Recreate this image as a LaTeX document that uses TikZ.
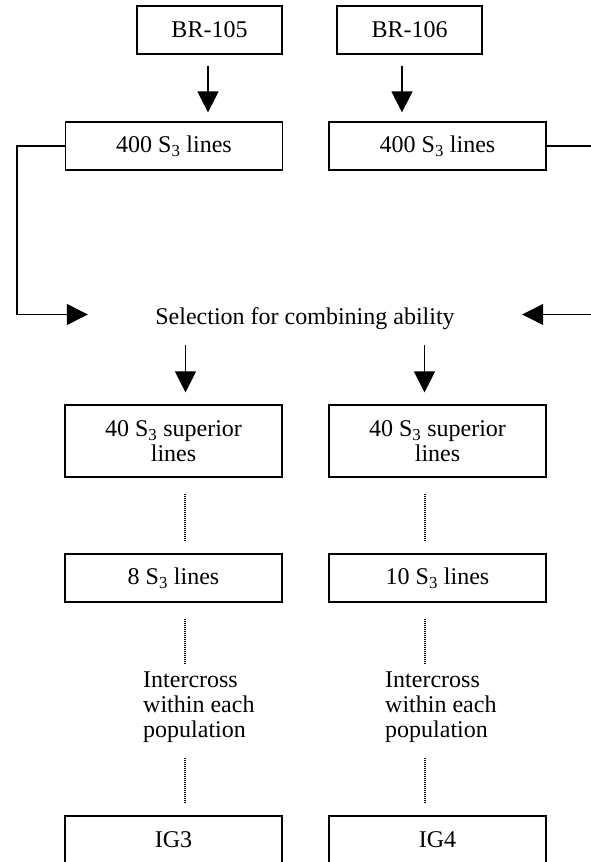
\documentclass[tikz,border=0pt]{standalone}
\usepackage{fontspec}
\setmainfont{Liberation Serif}
\usepackage{tikz}
\usetikzlibrary{arrows.meta,positioning}

\tikzset{
  every node/.style={font=\fontsize{24}{25}\selectfont, inner sep=0pt},
  box/.style={draw, line width=1.2pt, minimum width=217pt, minimum height=48pt},
  arr/.style={line width=1.2pt, -{Triangle[length=21pt,width=21pt]}},
  link/.style={line width=1.2pt},
  dots/.style={line width=1.3pt, dash pattern=on 1pt off 1pt}
}

\begin{document}
\begin{tikzpicture}[x=1pt,y=-1pt]
      \useasboundingbox (0,0) rectangle (591,862);
      % parents
      \node[box, minimum width=145pt] (br105) at (209.5,30) {BR-105};
      \node[box, minimum width=145pt] (br106) at (409.5,30) {BR-106};
      \node[box] (l400a) at (174,146) {400 S\textsubscript{3} lines};
      \node[box] (l400b) at (437.5,146) {400 S\textsubscript{3} lines};
      \node[minimum width=434pt, minimum height=53pt] (sel) at (305,318.5) {Selection for combining ability};
      % selected lines
      \node[box, minimum height=72pt, align=center] (sup40a) at (173.5,441) {40 S\textsubscript{3} superior\\lines};
      \node[box, minimum height=72pt, align=center] (sup40b) at (437.5,441) {40 S\textsubscript{3} superior\\lines};
      \node[box] (l8) at (173.5,578) {8 S\textsubscript{3} lines};
      \node[box] (l10) at (437.5,578) {10 S\textsubscript{3} lines};
      \node[anchor=north west, align=left] (intera) at (143,672) {Intercross\\within each\\population};
      \node[anchor=north west, align=left] (interb) at (385,672) {Intercross\\within each\\population};
      \node[box] (ig3) at (173.5,840) {IG3};
      \node[box] (ig4) at (437.5,840) {IG4};

      \draw[arr, shorten <=11pt, shorten >=9pt] ([xshift=-1.5pt]br105.south) -- ([xshift=-1.5pt]br105.south |- l400a.north);
      \draw[arr, shorten <=11pt, shorten >=9pt] ([xshift=-7.5pt]br106.south) -- ([xshift=-7.5pt]br106.south |- l400b.north);
      \draw[arr] (l400a.west) -- ++(-48,0) |- ([yshift=4pt]sel.west);
      \draw[arr] (l400b.east) -- ++(60,0) |- ([yshift=4pt]sel.east);
      \draw[arr, shorten >=12pt] ([xshift=-119.5pt]sel.south) -- ([xshift=-119.5pt]sel.south |- sup40a.north);
      \draw[arr, shorten >=12pt] ([xshift=119.5pt]sel.south) -- ([xshift=119.5pt]sel.south |- sup40b.north);

      \draw[dots, shorten <=16pt, shorten >=13pt] ([xshift=11.5pt]sup40a.south) -- ([xshift=11.5pt]l8.north);
      \draw[dots, shorten <=16pt, shorten >=13pt] ([xshift=-12.5pt]sup40b.south) -- ([xshift=-12.5pt]l10.north);
      \draw[dots, shorten <=16pt, shorten >=8pt] ([xshift=11.5pt]l8.south) -- ([xshift=11.5pt]l8.south |- intera.north);
      \draw[dots, shorten <=16pt, shorten >=8pt] ([xshift=-12.5pt]l10.south) -- ([xshift=-12.5pt]l10.south |- interb.north);
      \draw[dots, shorten <=15pt, shorten >=13pt] ([xshift=11.5pt]ig3.north |- intera.south) -- ([xshift=11.5pt]ig3.north);
      \draw[dots, shorten <=15pt, shorten >=13pt] ([xshift=-12.5pt]ig4.north |- interb.south) -- ([xshift=-12.5pt]ig4.north);
    \end{tikzpicture}
\end{document}
